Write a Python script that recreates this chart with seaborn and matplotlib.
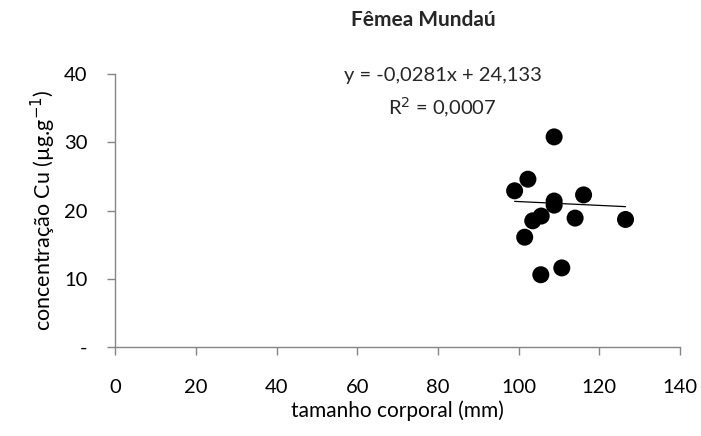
import matplotlib
matplotlib.use("Agg")
import matplotlib.pyplot as plt
import seaborn as sns
import numpy as np
import pandas as pd

# data
tamanho = [108.8, 102.3, 99.0, 116.1, 108.8, 108.8, 105.6, 103.5, 114.0, 126.5, 101.5, 110.7, 105.5]
cobre = [30.8, 24.6, 22.9, 22.3, 21.4, 20.8, 19.2, 18.5, 18.9, 18.7, 16.1, 11.6, 10.6]
slope = -0.0281
intercept = 24.133
x_ticks = [0, 20, 40, 60, 80, 100, 120, 140]
y_ticks = [0, 10, 20, 30, 40]
y_ticklabels = ["-", "10", "20", "30", "40"]

sns.set_theme(style="white")
plt.rcParams["font.family"] = ["Lato", "DejaVu Sans"]

df = pd.DataFrame({"tamanho": tamanho, "cobre": cobre})

fig = plt.figure(figsize=(7.01, 4.36), dpi=100)
ax = fig.add_axes([0.1645, 0.204, 0.970 - 0.1645, 0.830 - 0.204])

sns.scatterplot(data=df, x="tamanho", y="cobre", ax=ax, s=150, color="black",
                edgecolor="none", zorder=3, legend=False)

xl = np.array([min(tamanho), max(tamanho)])
ax.plot(xl, slope * xl + intercept, color="black", lw=0.9, zorder=2)

ax.set_xlim(0, 140)
ax.set_ylim(0, 40)
ax.set_xticks(x_ticks)
ax.set_xticklabels([str(v) for v in x_ticks])
ax.set_yticks(y_ticks)
ax.set_yticklabels(y_ticklabels)

gray = "#868686"
for s in ["top", "right"]:
    ax.spines[s].set_visible(False)
for s in ["left", "bottom"]:
    ax.spines[s].set_color(gray)
    ax.spines[s].set_linewidth(1.0)

fs = 14.5
ax.tick_params(axis="x", direction="out", length=6, width=1, color=gray,
               labelsize=fs, pad=17, labelcolor="black", bottom=True)
ax.tick_params(axis="y", direction="out", length=6, width=1, color=gray,
               labelsize=fs, pad=14, labelcolor="black", left=True)

ax.set_xlabel("tamanho corporal (mm)", fontsize=15, labelpad=3, color="black")
ax.set_ylabel("concentração Cu (µg.g$^{-1}$)", fontsize=15.5, labelpad=4, color="black")

fig.text(423 / 701, 1 - 20 / 436, "Fêmea Mundaú", ha="center", va="center",
         fontsize=15, fontweight="bold")
fig.text(443 / 701, 1 - 75 / 436, "y = -0,0281x + 24,133", ha="center", va="center",
         fontsize=fs)
fig.text(442 / 701, 1 - 108 / 436, "R$^2$ = 0,0007", ha="center", va="center",
         fontsize=fs)

fig.savefig("out.png", dpi=100)
